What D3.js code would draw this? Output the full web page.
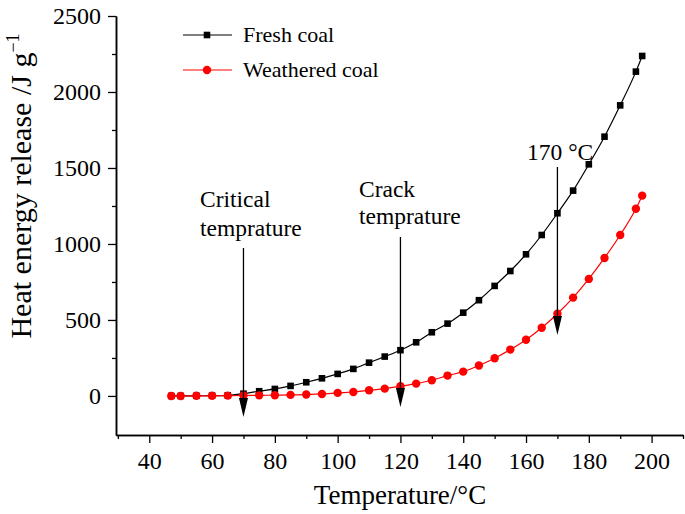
<!DOCTYPE html>
<html><head><meta charset="utf-8">
<script src="https://cdn.jsdelivr.net/npm/d3@7"></script>
<style>body{margin:0;background:#fff}svg{display:block}text{font-family:"Liberation Serif","Times New Roman",serif}</style>
</head><body>
<svg id="c" width="685" height="514"></svg>
<script>
const temps = [47,50,55,60,65,70,75,80,85,90,95,100,105,110,115,120,125,130,135,140,145,150,155,160,165,170,175,180,185,190,195,197];
const fresh = [0,0,1,2,4,15,31,46,66,90,116,145,178,219,259,301,353,419,476,548,630,724,822,932,1059,1202,1351,1524,1706,1912,2134,2237];
const weathered = [0,0,1,1,2,3,4,5,7,9,13,20,26,37,48,64,81,103,134,160,200,248,305,370,449,541,647,770,908,1059,1232,1318];
const xTicks = [40,60,80,100,120,140,160,180,200];
const yTicks = [0,500,1000,1500,2000,2500];
const annotations = [
  {t:70, y0:248, y1:417},
  {t:120, y0:237, y1:407},
  {t:170, y0:167, y1:335}
];
const annoTexts = [
  {t:"Critical", x:200, y:207},
  {t:"temprature", x:200, y:236},
  {t:"Crack", x:359, y:197},
  {t:"temprature", x:359, y:224},
  {t:"170 °C", x:527, y:160}
];
const seriesNames = ["Fresh coal","Weathered coal"];

const svg = d3.select("#c");
const x = d3.scaleLinear().domain([29.4,210]).range([116,683]);
const y = d3.scaleLinear().domain([-257,2500]).range([435,16]);

const fs = 24;
// axes
const xAxis = d3.axisBottom(x).tickValues(xTicks).tickSize(8).tickSizeOuter(0).tickPadding(9).tickFormat(d3.format("d"));
const gx = svg.append("g").attr("transform","translate(0,435)").call(xAxis);
const xMinor = d3.axisBottom(x).tickValues(d3.range(30,211,20)).tickSize(4).tickSizeOuter(0).tickFormat("");
svg.append("g").attr("transform","translate(0,435)").call(xMinor);
const yAxis = d3.axisLeft(y).tickValues(yTicks).tickSize(8).tickSizeOuter(0).tickPadding(7).tickFormat(d3.format("d"));
const gy = svg.append("g").attr("transform","translate(116,0)").call(yAxis);
const yMinor = d3.axisLeft(y).tickValues(d3.range(250,2500,500)).tickSize(4).tickSizeOuter(0).tickFormat("");
svg.append("g").attr("transform","translate(116,0)").call(yMinor);
svg.selectAll(".domain").attr("stroke","#000").attr("stroke-width",1.5);
svg.selectAll(".tick line").attr("stroke","#000").attr("stroke-width",1.3);
svg.selectAll(".tick text").attr("font-size",fs).attr("fill","#000").style("font-family","Liberation Serif");

// titles
svg.append("text").attr("x",400).attr("y",504).attr("text-anchor","middle").attr("font-size",27).text("Temperature/°C");
const yt = svg.append("text").attr("transform","translate(31,186) rotate(-90)").attr("text-anchor","middle").attr("font-size",30);
yt.append("tspan").text("Heat energy release /J g");
yt.append("tspan").attr("font-size",18).attr("dy",-12).text("−1");

// lines
const line = d3.line().x(d=>x(d[0])).y(d=>y(d[1])).curve(d3.curveMonotoneX);
const fd = temps.map((t,i)=>[t,fresh[i]]);
const wd = temps.map((t,i)=>[t,weathered[i]]);
svg.append("path").datum(fd).attr("d",line).attr("fill","none").attr("stroke","#000").attr("stroke-width",1.2);
svg.append("path").datum(wd).attr("d",line).attr("fill","none").attr("stroke","#ff0000").attr("stroke-width",1.2);
svg.append("g").selectAll("rect").data(fd).join("rect")
  .attr("x",d=>x(d[0])-3.3).attr("y",d=>y(d[1])-3.3).attr("width",6.6).attr("height",6.6).attr("fill","#000");
svg.append("g").selectAll("circle").data(wd).join("circle")
  .attr("cx",d=>x(d[0])).attr("cy",d=>y(d[1])).attr("r",4.2).attr("fill","#ff0000");

// arrows
annotations.forEach(a=>{
  const ax = x(a.t);
  svg.append("line").attr("x1",ax).attr("x2",ax).attr("y1",a.y0).attr("y2",a.y1-16).attr("stroke","#000").attr("stroke-width",1.3);
  svg.append("path").attr("d",`M${ax-4.5},${a.y1-19}L${ax},${a.y1}L${ax+4.5},${a.y1-19}Z`).attr("fill","#000");
});
annoTexts.forEach(a=>svg.append("text").attr("x",a.x).attr("y",a.y).attr("font-size",23.5).text(a.t));

// legend
const lg = [{n:seriesNames[0],c:"#000",y:35,s:"rect"},{n:seriesNames[1],c:"#ff0000",y:70,s:"circle"}];
lg.forEach(l=>{
  svg.append("line").attr("x1",183).attr("x2",232).attr("y1",l.y).attr("y2",l.y).attr("stroke",l.c).attr("stroke-width",1.2);
  if(l.s==="rect") svg.append("rect").attr("x",207-3.3).attr("y",l.y-3.3).attr("width",6.6).attr("height",6.6).attr("fill",l.c);
  else svg.append("circle").attr("cx",207).attr("cy",l.y).attr("r",4.2).attr("fill",l.c);
  svg.append("text").attr("x",243).attr("y",l.y+7).attr("font-size",22).text(l.n);
});
</script>
</body></html>
